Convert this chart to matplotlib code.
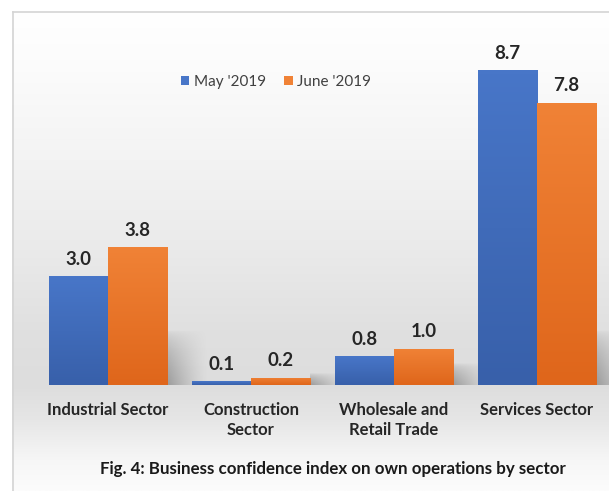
import numpy as np
import matplotlib
matplotlib.use("Agg")
import matplotlib.pyplot as plt
from matplotlib.patches import Patch
from matplotlib.colors import LinearSegmentedColormap

categories = ["Industrial Sector", "Construction\nSector", "Wholesale and\nRetail Trade", "Services Sector"]
may_2019 = [3.0, 0.1, 0.8, 8.7]
june_2019 = [3.8, 0.2, 1.0, 7.8]
series_names = ["May '2019", "June '2019"]
caption = "Fig. 4: Business confidence index on own operations by sector"

FONT = "Lato"
W, H = 609, 491
fig = plt.figure(figsize=(W / 100, H / 100), dpi=100)
fig.patch.set_facecolor("white")

# background panel with vertical gradient
bg = fig.add_axes([0, 0, 1, 1])
bg.set_xlim(0, W)
bg.set_ylim(H, 0)
bg.axis("off")
ys = np.array([11, 60, 150, 250, 330, 385, 420, 460, 491])
vs = np.array([255, 252, 244, 234, 224, 221, 230, 246, 252]) / 255
yy = np.linspace(11, 491, 400)
col = np.interp(yy, ys, vs)
img = np.repeat(col[:, None], 2, axis=1)
img = np.dstack([img, img, img])
bg.imshow(img, extent=[12, W, 491, 11], aspect="auto", interpolation="bilinear", zorder=0)
bg.plot([12.5, 12.5], [491, 11.5], color="#d4d4d4", lw=1.2, zorder=1)
bg.plot([12.5, W], [11.5, 11.5], color="#d4d4d4", lw=1.2, zorder=1)

px_per_unit = 36.2
ax_left, ax_right = 36.5, 608.5
ax_base = 385
ymax = 9.5
ax = fig.add_axes([ax_left / W, (H - ax_base) / H, (ax_right - ax_left) / W, ymax * px_per_unit / H])
ax.set_xlim(-0.5, len(categories) - 0.5)
ax.set_ylim(0, ymax)
ax.patch.set_alpha(0)
for s in ax.spines.values():
    s.set_visible(False)
ax.set_yticks([])

x = np.arange(len(categories))
bw = 0.415
off = 0.2075

blue_top, blue_bot = "#4876c8", "#3860aa"
orng_top, orng_bot = "#f08236", "#df661b"

# soft shadows behind the groups
for i in range(len(categories)):
    h = max(may_2019[i], june_2019[i])
    sh_h = min(1.5, 0.35 * h + 0.25)
    x0 = x[i] + off + bw / 2
    nx, ny = 60, 60
    gx = np.linspace(0, 1, nx)
    gy = np.linspace(0, 1, ny)
    GX, GY = np.meshgrid(gx, gy)
    alpha = (1 - GX) ** 1.3 * (1 - GY) ** 0.6 * 0.7
    rgba = np.zeros((ny, nx, 4))
    rgba[..., :3] = 0.5
    rgba[..., 3] = alpha
    ax.imshow(rgba, extent=[x0, x0 + 0.28, 0, sh_h], origin="lower", aspect="auto",
              interpolation="bilinear", zorder=1)

def grad_bar(xc, h, ctop, cbot):
    r = ax.bar(xc, h, bw, color=cbot, linewidth=0, zorder=2)[0]
    cmap = LinearSegmentedColormap.from_list("g", [cbot, ctop])
    g = np.linspace(0, 1, 64)[:, None]
    im = ax.imshow(g, cmap=cmap, extent=[xc - bw / 2, xc + bw / 2, 0, h], origin="lower",
                   aspect="auto", interpolation="bilinear", zorder=3)
    im.set_clip_path(r)
    return r

for i in range(len(categories)):
    grad_bar(x[i] - off, may_2019[i], blue_top, blue_bot)
    grad_bar(x[i] + off, june_2019[i], orng_top, orng_bot)
    for xc, v in ((x[i] - off, may_2019[i]), (x[i] + off, june_2019[i])):
        ax.annotate(f"{v:.1f}", (xc, v), xytext=(0, 6), textcoords="offset points",
                    ha="center", va="bottom", fontsize=13.5, fontweight="bold",
                    color="#262626", family=FONT, zorder=5)

ax.set_xticks(x)
ax.set_xticklabels(categories, fontsize=12, fontweight="bold", color="#262626",
                   family=FONT, linespacing=1.3)
ax.tick_params(axis="x", length=0, pad=12)
ax.set_ylim(0, ymax)
ax.set_xlim(-0.5, len(categories) - 0.5)

# legend
handles = [Patch(facecolor=blue_top, edgecolor="none"), Patch(facecolor=orng_top, edgecolor="none")]
leg = fig.legend(handles, series_names, loc="center", bbox_to_anchor=(276 / W, 1 - 82 / H),
                 ncol=2, frameon=False, handlelength=0.55, handleheight=0.55,
                 handletextpad=0.3, columnspacing=1.2, prop={"family": FONT, "size": 11})
for t in leg.get_texts():
    t.set_color("#404040")

fig.text(333 / W, 1 - 469 / H, caption, ha="center", va="center", fontsize=12.2,
         fontweight="bold", color="#1a1a1a", family=FONT)

fig.savefig("out.png", dpi=100, facecolor="white")
